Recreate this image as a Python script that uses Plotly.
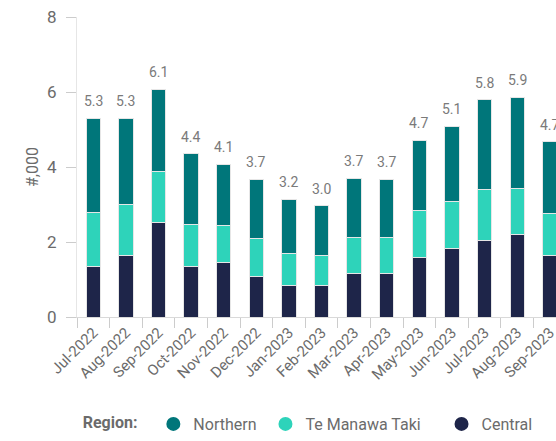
import plotly.graph_objects as go

months = ["Jul-2022", "Aug-2022", "Sep-2022", "Oct-2022", "Nov-2022", "Dec-2022",
          "Jan-2023", "Feb-2023", "Mar-2023", "Apr-2023", "May-2023", "Jun-2023",
          "Jul-2023", "Aug-2023", "Sep-2023"]
central = [1.35, 1.63, 2.53, 1.34, 1.45, 1.07, 0.83, 0.85, 1.16, 1.16, 1.59, 1.83, 2.03, 2.21, 1.65]
te_manawa_taki = [1.45, 1.36, 1.34, 1.13, 0.98, 1.03, 0.87, 0.80, 0.95, 0.95, 1.26, 1.26, 1.38, 1.22, 1.10]
northern = [2.50, 2.31, 2.20, 1.89, 1.65, 1.57, 1.44, 1.32, 1.59, 1.56, 1.87, 2.00, 2.38, 2.43, 1.93]
totals = [5.3, 5.3, 6.1, 4.4, 4.1, 3.7, 3.2, 3.0, 3.7, 3.7, 4.7, 5.1, 5.8, 5.9, 4.7]

C_NORTH = "#00767A"
C_TMT = "#2ED3BA"
C_CENTRAL = "#1E2549"
FONT = "Roboto"
GREY = "#6b6b6b"

fig = go.Figure()
for name, vals, col in [("Central", central, C_CENTRAL),
                        ("Te Manawa Taki", te_manawa_taki, C_TMT),
                        ("Northern", northern, C_NORTH)]:
    fig.add_trace(go.Bar(x=months, y=vals, name=name, marker_color=col,
                         marker_line_color="#e6e6e6", marker_line_width=1,
                         width=0.44, showlegend=False))

stack_top = [c + t + n for c, t, n in zip(central, te_manawa_taki, northern)]
for m, top, tot in zip(months, stack_top, totals):
    fig.add_annotation(x=m, y=top, text=f"{tot:.1f}", showarrow=False,
                       yanchor="bottom", yshift=7,
                       font=dict(family=FONT, size=14, color="#7a7a7a"))

legend_names = ["Northern\u00a0", "Te Manawa Taki\u00a0\u00a0\u00a0\u00a0", "Central"]
for name, col in zip(legend_names, [C_NORTH, C_TMT, C_CENTRAL]):
    fig.add_trace(go.Scatter(x=[months[0]], y=[None], mode="markers", name=name,
                             marker=dict(color=col, size=16, symbol="circle",
                                         line=dict(color=col, width=3))))

fig.update_layout(
    width=556, height=441,
    barmode="stack",
    plot_bgcolor="white", paper_bgcolor="white",
    margin=dict(l=77, r=0, t=17, b=124),
    font=dict(family=FONT, color=GREY),
    legend=dict(orientation="h", xref="container", yref="container",
                x=0.556, xanchor="center", y=0.0, yanchor="bottom",
                traceorder="normal",
                title=dict(text="<b>Region:</b>\u00a0\u00a0", font=dict(size=16, color=GREY)),
                font=dict(size=16, color=GREY), itemsizing="constant",
                itemwidth=30, tracegroupgap=0),
    xaxis=dict(range=[-0.5, 14.19], showline=True, linecolor="#d9d9d9", linewidth=1,
               ticks="outside", tickson="boundaries", ticklen=10, tickcolor="#cccccc",
               tickangle=-45, tickfont=dict(size=15, color=GREY), showgrid=False,
               automargin=False, ticklabeloverflow="allow"),
    yaxis=dict(range=[0, 8], tickvals=[0, 2, 4, 6, 8], showline=True, linecolor="#e6e6e6",
               ticks="outside", ticklen=10, tickcolor="#cccccc", showgrid=False,
               zeroline=False, tickfont=dict(size=17, color=GREY), ticklabelstandoff=6,
               automargin=False, ticklabeloverflow="allow",
               title=dict(text="#,000", font=dict(size=16, color=GREY), standoff=4)),
)

fig.write_html("out.html",
               config={"displayModeBar": False},
               post_script="document.documentElement.style.margin='0';"
                           "document.body.style.margin='0';"
                           "document.body.style.overflow='hidden';")
